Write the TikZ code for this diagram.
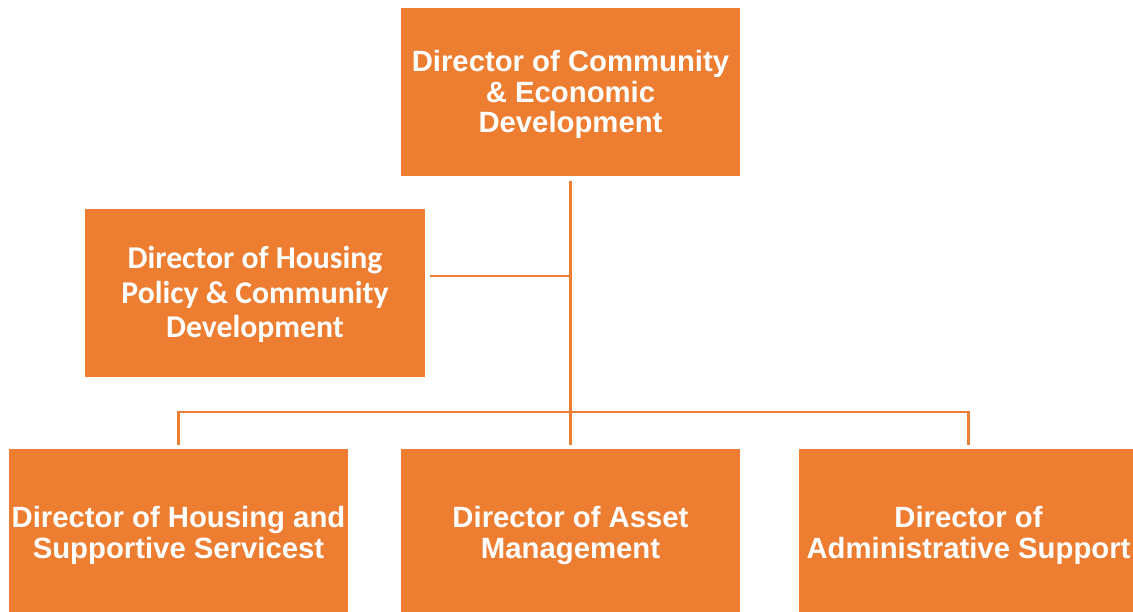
\documentclass[tikz,border=0pt]{standalone}
\usepackage{fontspec}
\setmainfont{Liberation Sans}
\newfontfamily\calfont{Carlito}
\definecolor{orgfill}{HTML}{ED7D31}
\newcommand{\lowtext}[2]{\raisebox{#1}[\height][\depth]{\begin{tabular}{@{}c@{}}#2\end{tabular}}}
\begin{document}
\begin{tikzpicture}[x=1pt,y=-1pt,
  box/.style={draw=none,fill=orgfill,text=white,inner sep=0pt,outer sep=4.5pt},
  arial/.style={font=\fontsize{29.3}{30.5}\selectfont\bfseries},
  calib/.style={font=\fontsize{31.7}{34.5}\selectfont\calfont\bfseries},
  conn/.style={draw=orgfill,line width=2.5pt}]
\useasboundingbox (0,0) rectangle (1133,611);
\node[box,arial,minimum width=339pt,minimum height=168pt] (top) at (570.5,92) {\lowtext{-4pt}{Director of Community\\\& Economic\\Development}};
\node[box,calib,minimum width=340pt,minimum height=168pt] (hp) at (255,293) {\lowtext{-3.5pt}{Director of Housing\\Policy \& Community\\Development}};
\node[box,arial,minimum width=339pt,minimum height=166pt] (hsc) at (178.5,532) {\lowtext{-5pt}{Director of Housing and\\Supportive Servicest}};
\node[box,arial,minimum width=339pt,minimum height=166pt] (am) at (570.5,532) {\lowtext{-5pt}{Director of Asset\\Management}};
\node[box,arial,minimum width=339pt,minimum height=166pt] (adm) at (968.5,532) {\lowtext{-5pt}{Director of\\Administrative Support}};
\coordinate (bus) at (570.5,412);
\draw[conn] (top.south) -- (am.north);
\draw[conn] (hsc.north) |- (bus) -| (adm.north);
\draw[conn] ([yshift=17pt]hp.east) -- ([yshift=17pt]hp.east -| top.south);
\end{tikzpicture}
\end{document}
